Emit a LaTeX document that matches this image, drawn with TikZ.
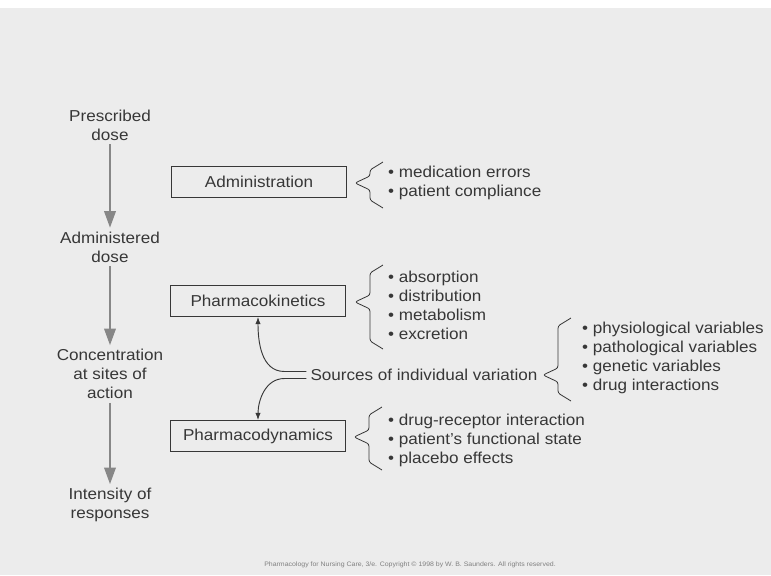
\documentclass[tikz,border=0pt]{standalone}
\usepackage{fontspec}
\setmainfont{Liberation Sans}[FakeStretch=1.08]
\usetikzlibrary{arrows.meta}
\definecolor{scan}{RGB}{236,236,236}
\definecolor{ink}{RGB}{55,55,55}
\definecolor{flowgray}{RGB}{135,135,135}
\def\sidebrace(#1,#2)(#3:#4){\draw[ink,line width=0.7pt,line join=round,rounded corners=2pt] ({#1+28},#3) -- ({#1+15},{#3+8}) -- ({#1+15},{#2-7}) -- (#1,#2) -- ({#1+15},{#2+7}) -- ({#1+15},{#4-8}) -- ({#1+28},#4);}

\begin{document}
\begin{tikzpicture}[x=0.03cm,y=-0.03cm,font=\fontsize{13.5}{16.2}\selectfont,
	box/.style={draw=ink,line width=0.9pt,minimum width=5.25cm,minimum height=0.93cm,text=ink},
	stage/.style={align=center,text=ink},
	items/.style={align=left,anchor=west,text=ink},
	flow/.style={flowgray,line width=1pt,-{Triangle[width=10pt,length=14pt]}},
	link/.style={ink,line width=0.8pt}]
			%%%%% START %%%%%
			
			\fill[scan] (0,0) rectangle (771,575);
			\fill[white] (0,0) rectangle (771,8);
			\useasboundingbox (0,0) rectangle (771,575);
			
			% left column
			\node[stage] (pres) at (110,125) {Prescribed\\dose};
			\node[stage] (adm) at (110,247) {Administered\\dose};
			\node[stage] (conc) at (110,374) {Concentration\\at sites of\\action};
			\node[stage] (int) at (110,505) {Intensity of\\responses};
			
			\draw[flow] (pres) -- (adm);
			\draw[flow] (adm) -- (conc);
			\draw[flow] (conc) -- (int);
			
			% boxes
			\node[box] (admin) at (259,182) {Administration};
			\node[box] (pk) at (258,301) {Pharmacokinetics};
			\node[box] (pd) at (258,436) {Pharmacodynamics};
			
			\sidebrace(355,183)(162:208);
			\node[items] (adminlist) at (384,183) {• medication errors\\• patient compliance};
			
			\sidebrace(355,302)(265:349);
			\node[items] (pklist) at (384,305) {• absorption\\• distribution\\• metabolism\\• excretion};
			
			\sidebrace(354,437)(407:470);
			\node[items] (pdlist) at (384,440) {• drug-receptor interaction\\• patient's functional state\\• placebo effects};
			
			% sources of variation
			\node[text=ink] (src) at (424,375) {Sources of individual variation};
			\sidebrace(543,375)(318:401);
			\node[items] (srclist) at (578,358) {• physiological variables\\• pathological variables\\• genetic variables\\• drug interactions};
			
			\draw[link,-{Latex[length=6pt,width=4.5pt]}] ([yshift=3pt]src.west) -- ++(-22,0) to[out=180,in=-90] (pk.south);
			\draw[link,-{Latex[length=6pt,width=4.5pt]}] ([yshift=-3pt]src.west) -- ++(-22,0) to[out=180,in=90] (pd.north);
			
			\node[text=gray,font=\fontsize{5.5}{6}\selectfont] (credit) at (410,565) {Pharmacology for Nursing Care, 3/e. Copyright © 1998 by W. B. Saunders. All rights reserved.};
			
			%%%%% END %%%%%
\end{tikzpicture}
\end{document}
